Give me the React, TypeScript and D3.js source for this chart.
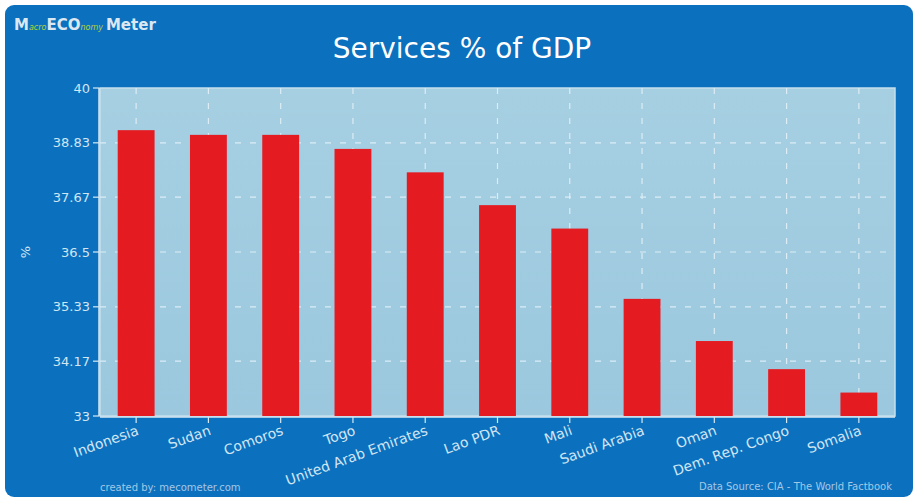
import React from "react";
import * as d3 from "d3";

const categories = ["Indonesia", "Sudan", "Comoros", "Togo", "United Arab Emirates", "Lao PDR", "Mali", "Saudi Arabia", "Oman", "Dem. Rep. Congo", "Somalia"];
const values = [39.1, 39.0, 39.0, 38.7, 38.2, 37.5, 37.0, 35.5, 34.6, 34.0, 33.5];
const yTicks = [33, 34.17, 35.33, 36.5, 37.67, 38.83, 40];
const yTickLabels = ["33", "34.17", "35.33", "36.5", "37.67", "38.83", "40"];

const W = 918, H = 500;
const plot = { left: 100, right: 895, top: 88, bottom: 416 };
const FONT = "'DejaVu Sans', Verdana, sans-serif";

export default function App() {
  const x = d3.scaleBand<string>().domain(categories).range([plot.left, plot.right]).paddingInner(0.49).paddingOuter(0.245);
  const y = d3.scaleLinear().domain([33, 40]).range([plot.bottom, plot.top]);
  const bw = x.bandwidth();
  return (
    <svg width={W} height={H} style={{ position: "absolute", left: 0, top: 0, display: "block" }}>
      <defs>
        <linearGradient id="pbg" x1="0" y1="0" x2="0" y2="1">
          <stop offset="0" stopColor="#a6cfe2" />
          <stop offset="1" stopColor="#9bc8de" />
        </linearGradient>
      </defs>
      <rect x={0} y={0} width={W} height={H} fill="#ffffff" />
      <rect x={5} y={5} width={908} height={492} rx={9} fill="#0b70bd" />
      {/* logo */}
      <text x={14} y={30} fontFamily={FONT} fontWeight="bold" fontSize={15} fill="#dbe8f2">
        <tspan>M</tspan>
        <tspan fontSize={8} fill="#b5d334" fontStyle="italic" fontWeight="normal">acro</tspan>
        <tspan>ECO</tspan>
        <tspan fontSize={8} fill="#b5d334" fontStyle="italic" fontWeight="normal">nomy</tspan>
        <tspan dx={3}>Meter</tspan>
      </text>
      <text x={462} y={58} textAnchor="middle" fontFamily={FONT} fontSize={28} fill="#ffffff">Services % of GDP</text>
      {/* plot bg */}
      <rect x={plot.left} y={plot.top} width={plot.right - plot.left} height={plot.bottom - plot.top} fill="url(#pbg)" stroke="#c5e0ec" strokeWidth={1.5} />
      {/* grid */}
      {yTicks.slice(1, -1).map((t) => (
        <line key={"h" + t} x1={plot.left} x2={plot.right} y1={y(t)} y2={y(t)} stroke="#dcedf5" strokeWidth={1.2} strokeDasharray="6,9" />
      ))}
      {categories.map((c) => (
        <line key={"v" + c} x1={x(c)! + bw / 2} x2={x(c)! + bw / 2} y1={plot.top} y2={plot.bottom} stroke="#dcedf5" strokeWidth={1.2} strokeDasharray="6,9" />
      ))}
      {/* bars */}
      {categories.map((c, i) => (
        <rect key={c} x={x(c)!} y={y(values[i])} width={bw} height={plot.bottom - y(values[i])} fill="#e51b22" />
      ))}
      {/* axes */}
      <line x1={plot.left - 1} x2={plot.left - 1} y1={plot.top} y2={plot.bottom} stroke="#d7e9f3" strokeWidth={1.5} />
      <line x1={plot.left} x2={plot.right} y1={plot.bottom + 1} y2={plot.bottom + 1} stroke="#d7e9f3" strokeWidth={1.5} />
      {yTicks.map((t, i) => (
        <g key={"yt" + t}>
          <line x1={plot.left - 7} x2={plot.left - 1} y1={y(t)} y2={y(t)} stroke="#d7e9f3" strokeWidth={1.2} />
          <text x={plot.left - 10} y={y(t)} dy="0.35em" textAnchor="end" fontFamily={FONT} fontSize={13} fill="#d2e6f4">{yTickLabels[i]}</text>
        </g>
      ))}
      <text transform={`translate(30,${(plot.top + plot.bottom) / 2}) rotate(-90)`} textAnchor="middle" fontFamily={FONT} fontSize={13} fill="#d2e6f4">%</text>
      {categories.map((c) => {
        const cx = x(c)! + bw / 2;
        return (
          <g key={"xt" + c}>
            <line x1={cx} x2={cx} y1={plot.bottom + 1} y2={plot.bottom + 7} stroke="#d7e9f3" strokeWidth={1.2} />
            <text transform={`translate(${cx},${plot.bottom + 9}) rotate(-20)`} textAnchor="end" dy="0.7em" fontFamily={FONT} fontSize={14} fill="#d2e6f4">{c}</text>
          </g>
        );
      })}
      <text x={100} y={491} fontFamily={FONT} fontSize={10} fill="#a3c8e6">created by: mecometer.com</text>
      <text x={892} y={490} textAnchor="end" fontFamily={FONT} fontSize={10} fill="#a3c8e6">Data Source: CIA - The World Factbook</text>
    </svg>
  );
}
